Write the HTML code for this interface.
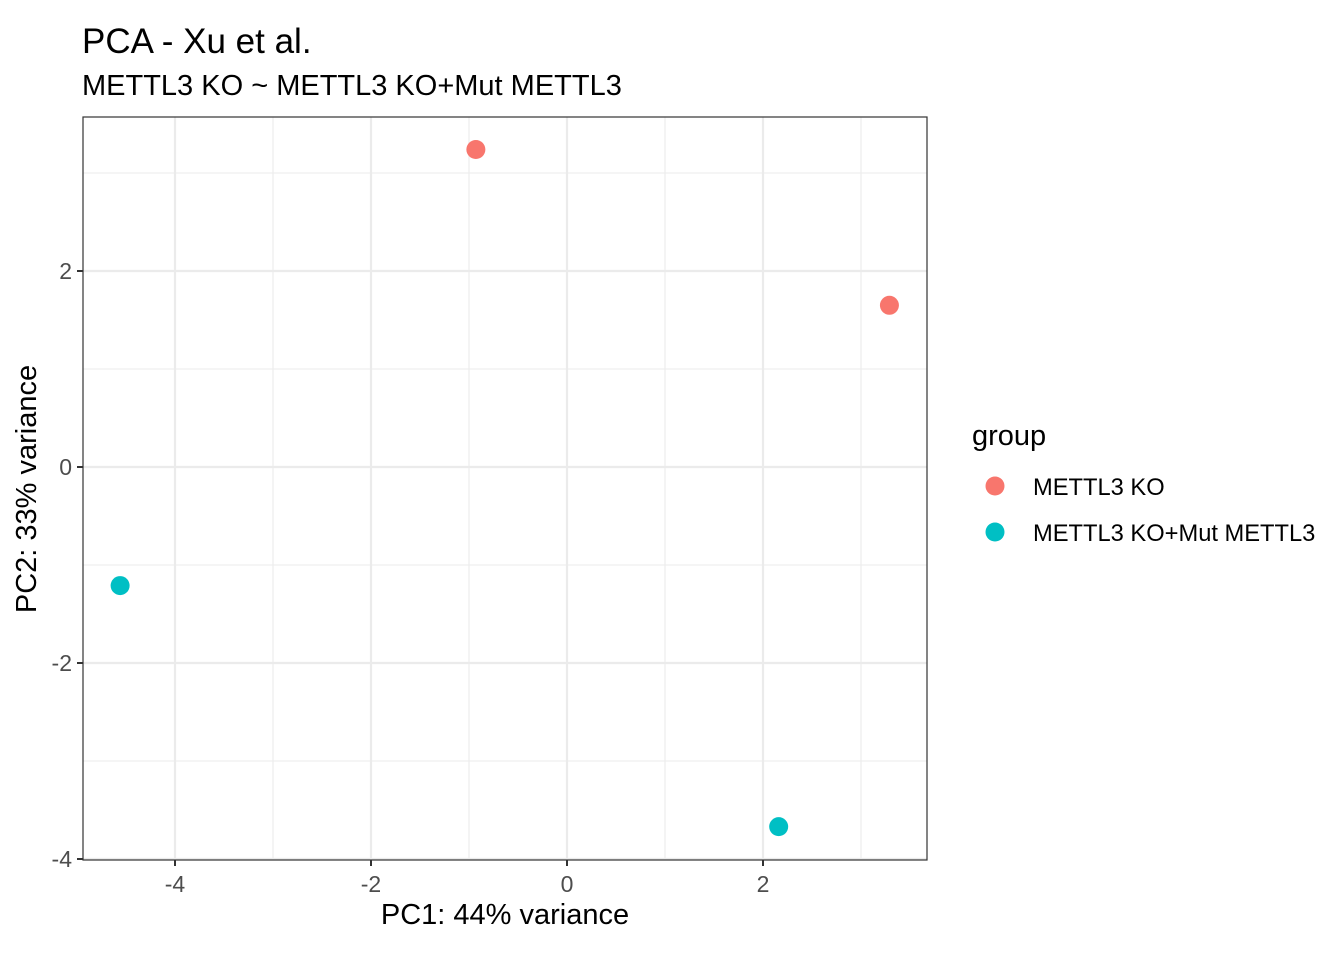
<!DOCTYPE html>
<html><head><meta charset="utf-8"><style>
body{margin:0;background:#fff;font-family:"Liberation Sans",sans-serif;}
</style></head><body>
<svg id="c" width="1344" height="960" font-family="Liberation Sans, sans-serif">
<text x="82" y="53" font-size="35" fill="#000">PCA - Xu et al.</text>
<text x="82" y="95" font-size="29" fill="#000">METTL3 KO ~ METTL3 KO+Mut METTL3</text>
<g id="grid"></g><g id="pts"></g><g id="axes"></g>
<text x="505" y="924" font-size="29" text-anchor="middle">PC1: 44% variance</text>
<text transform="translate(36,489) rotate(-90)" font-size="29" text-anchor="middle">PC2: 33% variance</text>
<g>
<text x="972" y="445" font-size="29">group</text>
<circle cx="995" cy="486" r="9.5" fill="#F8766D"/>
<text x="1033" y="495" font-size="23.7">METTL3 KO</text>
<circle cx="995" cy="532" r="9.5" fill="#00BFC4"/>
<text x="1033" y="541" font-size="23.7">METTL3 KO+Mut METTL3</text>
</g>
</svg>
<script>
const groups=["METTL3 KO","METTL3 KO","METTL3 KO+Mut METTL3","METTL3 KO+Mut METTL3"];
const pc1=[-0.93,3.29,-4.56,2.16];
const pc2=[3.24,1.65,-1.21,-3.67];
const xTicks=[-4,-2,0,2];
const yTicks=[-4,-2,0,2];
const colors={"METTL3 KO":"#F8766D","METTL3 KO+Mut METTL3":"#00BFC4"};
const L=83,R=927,T=117,B=860;
const sx=v=>567+98*v, sy=v=>467-98*v;
const ns="http://www.w3.org/2000/svg";
function mk(t,a,p){const e=document.createElementNS(ns,t);for(const k in a)e.setAttribute(k,a[k]);p.appendChild(e);return e;}
const g=document.getElementById('grid'),pg=document.getElementById('pts'),ax=document.getElementById('axes');
mk('rect',{x:L,y:T,width:R-L,height:B-T,fill:'#fff'},g);
for(let v=-5;v<=4;v++){const x=sx(v);if(x>L&&x<R){const l=mk('line',{x1:x,x2:x,y1:T,y2:B,stroke:'#EBEBEB','stroke-width':v%2===0?2.2:1.1},g);}
 const y=sy(v);if(y>T&&y<B){const l=mk('line',{x1:L,x2:R,y1:y,y2:y,stroke:'#EBEBEB','stroke-width':v%2===0?2.2:1.1},g);}}
for(let i=0;i<pc1.length;i++){const c=mk('circle',{cx:sx(pc1[i]),cy:sy(pc2[i]),r:9.5,fill:colors[groups[i]]},pg);

}
const fr=mk('rect',{x:L,y:T,width:R-L,height:B-T,fill:'none',stroke:'#333','stroke-width':1.2},ax);

xTicks.forEach(v=>{const x=sx(v);mk('line',{x1:x,x2:x,y1:B,y2:B+6,stroke:'#333','stroke-width':2},ax);
const t=mk('text',{x:x,y:B+32,'font-size':23,'text-anchor':'middle',fill:'#4D4D4D'},ax);t.textContent=v;
});
yTicks.forEach(v=>{const y=sy(v);mk('line',{x1:L-6,x2:L,y1:y,y2:y,stroke:'#333','stroke-width':2},ax);
const t=mk('text',{x:L-11,y:y+8,'font-size':23,'text-anchor':'end',fill:'#4D4D4D'},ax);t.textContent=v;
});
</script>
</body></html>
